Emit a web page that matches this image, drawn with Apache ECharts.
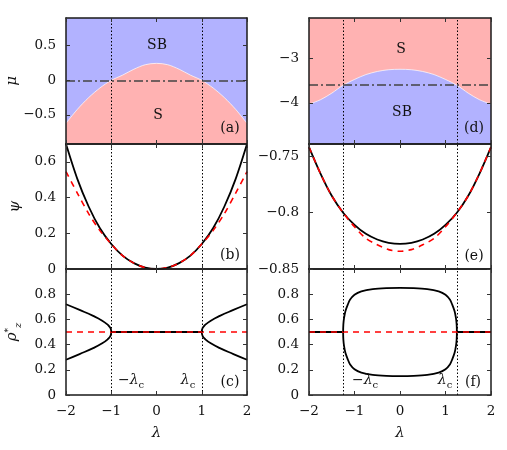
<!DOCTYPE html>
<html>
<head>
<meta charset="utf-8">
<script src="https://cdn.jsdelivr.net/npm/echarts@6/dist/echarts.min.js"></script>
<style>
  html, body { margin: 0; padding: 0; background: #fff; }
  #chart { width: 507px; height: 450px; }
</style>
</head>
<body>
<div id="chart"></div>
<script>
// common lambda grid for the smooth curves
const lam = [-2, -1.75, -1.5, -1.25, -1, -0.75, -0.5, -0.25, 0, 0.25, 0.5, 0.75, 1, 1.25, 1.5, 1.75, 2];

// (a) phase boundary mu(lambda), S below / SB above
const muBoundaryA = [-0.62, -0.42, -0.25, -0.11, 0, 0.075, 0.16, 0.225, 0.245, 0.225, 0.16, 0.075, 0, -0.11, -0.25, -0.42, -0.62];
const muLineA = 0;
// (b) psi
const psiBlackB = [0.70, 0.505, 0.35, 0.228, 0.14, 0.075, 0.033, 0.008, 0, 0.008, 0.033, 0.075, 0.14, 0.228, 0.35, 0.505, 0.70];
const psiRedB = [0.545, 0.425, 0.31, 0.215, 0.14, 0.075, 0.033, 0.008, 0, 0.008, 0.033, 0.075, 0.14, 0.215, 0.31, 0.425, 0.545];
// (c) rho*_z
const branchLamL = [-2, -1.7, -1.4, -1.2, -1.08, -1.02, -1, -1.02, -1.08, -1.2, -1.4, -1.7, -2];
const branchLamR = [2, 1.7, 1.4, 1.2, 1.08, 1.02, 1, 1.02, 1.08, 1.2, 1.4, 1.7, 2];
const branchRho = [0.72, 0.675, 0.628, 0.59, 0.558, 0.532, 0.5, 0.468, 0.442, 0.41, 0.372, 0.325, 0.28];
const flatLamC = [-1, 1];
const flatRhoC = [0.5, 0.5];
const redLam = [-2, 2];
const redRho = [0.5, 0.5];
const lamcLeft = 1;

// (d) phase boundary, SB below / S above
const muBoundaryD = [-4.03, -3.93, -3.78, -3.6, -3.47, -3.36, -3.29, -3.25, -3.24, -3.25, -3.29, -3.36, -3.47, -3.6, -3.78, -3.93, -4.03];
const muLineD = -3.6;
// (e) psi
const psiBlackE = [-0.7417, -0.765, -0.785, -0.800, -0.8108, -0.8188, -0.8238, -0.8267, -0.8277, -0.8267, -0.8238, -0.8188, -0.8108, -0.800, -0.785, -0.765, -0.7417];
const psiRedE = [-0.7417, -0.765, -0.785, -0.800, -0.8125, -0.8228, -0.8285, -0.8328, -0.8343, -0.8328, -0.8285, -0.8228, -0.8125, -0.800, -0.785, -0.765, -0.7417];
// (f) rho*_z loop
const loopLam = [-1.25, -1.245, -1.23, -1.2, -1.15, -1.1, -1, -0.85, -0.6, -0.3, 0, 0.3, 0.6, 0.85, 1, 1.1, 1.15, 1.2, 1.23, 1.245, 1.25,
  1.245, 1.23, 1.2, 1.15, 1.1, 1, 0.85, 0.6, 0.3, 0, -0.3, -0.6, -0.85, -1, -1.1, -1.15, -1.2, -1.23, -1.245, -1.25];
const loopRho = [0.5, 0.56, 0.61, 0.665, 0.715, 0.755, 0.795, 0.822, 0.84, 0.848, 0.85, 0.848, 0.84, 0.822, 0.795, 0.755, 0.715, 0.665, 0.61, 0.56, 0.5,
  0.44, 0.39, 0.335, 0.285, 0.245, 0.205, 0.178, 0.16, 0.152, 0.15, 0.152, 0.16, 0.178, 0.205, 0.245, 0.285, 0.335, 0.39, 0.44, 0.5];
const flatLamFL = [-2, -1.25];
const flatLamFR = [1.25, 2];
const flatRhoF = [0.5, 0.5];
const lamcRight = 1.25;

// tick labels
const xTicks = [-2, -1, 0, 1, 2];
const yTicksA = [-0.5, 0, 0.5];
const yTicksB = [0, 0.2, 0.4, 0.6];
const yTicksC = [0, 0.2, 0.4, 0.6, 0.8];
const yTicksD = [-4, -3];
const yTicksE = [-0.85, -0.8, -0.75];
const yTicksF = [0, 0.2, 0.4, 0.6, 0.8];

const BLUE = '#b2b2ff';
const PINK = '#ffb2b2';
const FONT = '"DejaVu Serif", serif';

function zip(xs, ys) { return xs.map((x, i) => [x, ys[i]]); }
const minus = v => String(v).replace('-', '\u2212');

const chart = echarts.init(document.getElementById('chart'));

// grid geometry: a,b,c left column, d,e,f right column
const panels = [
  { left: 66, top: 18, width: 181, height: 126, min: -0.92, max: 0.9, ticks: yTicksA, xlab: false, bg: BLUE },
  { left: 66, top: 144, width: 181, height: 125, min: 0, max: 0.7, ticks: yTicksB, xlab: false },
  { left: 66, top: 269, width: 181, height: 126, min: 0, max: 1, ticks: yTicksC, xlab: true },
  { left: 309, top: 18, width: 182, height: 126, min: -4.93, max: -2.08, ticks: yTicksD, xlab: false, bg: PINK },
  { left: 309, top: 144, width: 182, height: 125, min: -0.85, max: -0.739, ticks: yTicksE, xlab: false },
  { left: 309, top: 269, width: 182, height: 126, min: 0, max: 1, ticks: yTicksF, xlab: true }
];
const yNames = ['\u03bc', '\u03c8', '{r|\u03c1}{s|*}{z|z}'];

const frame = { color: '#1a1a1a', width: 1.5 };
const tick = { inside: true, length: 4, lineStyle: { color: '#333', width: 1 } };
const labelStyle = { color: '#111', fontFamily: FONT, fontSize: 13.5 };

const grid = [], xAxis = [], yAxis = [];
panels.forEach((p, g) => {
  grid.push({
    left: p.left, top: p.top, width: p.width, height: p.height,
    show: !!p.bg, backgroundColor: p.bg || 'transparent', borderWidth: 0
  });
  ['bottom', 'top'].forEach(pos => {
    const ax = {
      gridIndex: g, type: 'value', min: -2, max: 2, interval: 1, position: pos, z: 5,
      axisLine: { show: true, onZero: false, lineStyle: frame },
      axisTick: tick,
      splitLine: { show: false },
      axisLabel: { show: pos === 'bottom' && p.xlab, margin: 9, formatter: minus, ...labelStyle, customValues: xTicks }
    };
    if (pos === 'bottom' && p.xlab) {
      ax.name = '\u03bb';
      ax.nameLocation = 'middle';
      ax.nameGap = 31;
      ax.nameTextStyle = { fontFamily: FONT, fontStyle: 'italic', fontSize: 15, color: '#111' };
    }
    xAxis.push(ax);
  });
  ['left', 'right'].forEach(pos => {
    const ay = {
      gridIndex: g, type: 'value', min: p.min, max: p.max, position: pos, z: 5,
      axisLine: { show: true, onZero: false, lineStyle: frame },
      axisTick: { ...tick, customValues: p.ticks },
      splitLine: { show: false },
      axisLabel: { show: pos === 'left', margin: 10, formatter: minus, ...labelStyle, customValues: p.ticks }
    };
    if (pos === 'left' && g < 3) {
      ay.name = yNames[g];
      ay.nameLocation = 'middle';
      ay.nameGap = 43;
      ay.nameTextStyle = {
        fontFamily: FONT, fontStyle: 'italic', fontSize: 15, color: '#111',
        rich: {
          r: { fontFamily: FONT, fontStyle: 'italic', fontSize: 15, verticalAlign: 'bottom', padding: [0, 0, 3, 0] },
          s: { fontFamily: FONT, fontSize: 9, verticalAlign: 'bottom', padding: [0, 0, 10, 0] },
          z: { fontFamily: FONT, fontStyle: 'italic', fontSize: 10, verticalAlign: 'bottom' }
        }
      };
    }
    yAxis.push(ay);
  });
});

const dotted = { color: '#000', width: 1, type: [1.5, 2] };
const dashDot = { color: '#444', width: 1.5, type: [9, 3, 2, 3] };
function vlines(lc, extra) {
  return {
    silent: true, symbol: ['none', 'none'], label: { show: false },
    lineStyle: dotted,
    data: [{ xAxis: -lc }, { xAxis: lc }].concat(extra || [])
  };
}
function curve(g, data, opt) {
  return Object.assign({
    type: 'line', xAxisIndex: 2 * g, yAxisIndex: 2 * g, data: data,
    showSymbol: false, smooth: 0.3, z: 2,
    lineStyle: { color: '#000', width: 1.8 }
  }, opt || {});
}
const black = { color: '#000', width: 1.8 };
const red = { color: '#ff0000', width: 1.6, type: [6, 5] };

const series = [
  // (a)
  curve(0, zip(lam, muBoundaryA), {
    lineStyle: { color: 'rgba(255,255,255,0.7)', width: 1 },
    areaStyle: { color: PINK, opacity: 1, origin: 'start' },
    markLine: vlines(lamcLeft, [{ yAxis: muLineA, lineStyle: dashDot }])
  }),
  // (b)
  curve(1, zip(lam, psiBlackB), { lineStyle: black, markLine: vlines(lamcLeft) }),
  curve(1, zip(lam, psiRedB), { lineStyle: red }),
  // (c)
  curve(2, zip(branchLamL, branchRho), { lineStyle: black, smooth: 0.5, markLine: vlines(lamcLeft) }),
  curve(2, zip(branchLamR, branchRho), { lineStyle: black, smooth: 0.5 }),
  curve(2, zip(flatLamC, flatRhoC), { lineStyle: black, smooth: false }),
  curve(2, zip(redLam, redRho), { lineStyle: red, smooth: false }),
  // (d)
  curve(3, zip(lam, muBoundaryD), {
    lineStyle: { color: 'rgba(255,255,255,0.7)', width: 1 },
    areaStyle: { color: BLUE, opacity: 1, origin: 'start' },
    markLine: vlines(lamcRight, [{ yAxis: muLineD, lineStyle: dashDot }])
  }),
  // (e)
  curve(4, zip(lam, psiBlackE), { lineStyle: black, markLine: vlines(lamcRight) }),
  curve(4, zip(lam, psiRedE), { lineStyle: red }),
  // (f)
  curve(5, zip(loopLam, loopRho), { lineStyle: black, markLine: vlines(lamcRight) }),
  curve(5, zip(flatLamFL, flatRhoF), { lineStyle: black, smooth: false }),
  curve(5, zip(flatLamFR, flatRhoF), { lineStyle: black, smooth: false }),
  curve(5, zip(redLam, redRho), { lineStyle: red, smooth: false })
];

function txt(x, y, text, size) {
  return {
    type: 'text', x: x, y: y, z: 100,
    style: { text: text, fill: '#111', font: (size || 14) + 'px ' + FONT, align: 'center', verticalAlign: 'middle' }
  };
}
const lcRich = {
  n: { fontFamily: FONT, fontSize: 14, verticalAlign: 'bottom', padding: [0, 0, 3, 0] },
  i: { fontFamily: FONT, fontStyle: 'italic', fontSize: 14, verticalAlign: 'bottom', padding: [0, 0, 3, 0] },
  s: { fontFamily: FONT, fontSize: 10, verticalAlign: 'bottom' }
};
function lc(x, y, neg) {
  return {
    type: 'text', x: x, y: y, z: 100,
    style: {
      text: (neg ? '{n|\u2212}' : '') + '{i|\u03bb}{s|c}', rich: lcRich, fill: '#111',
      align: 'center', verticalAlign: 'middle'
    }
  };
}

const graphic = [
  txt(157, 45, 'SB'), txt(158, 115, 'S'), txt(230, 128, '(a)'),
  txt(401, 49, 'S'), txt(402, 112, 'SB'), txt(474, 128, '(d)'),
  txt(230, 255, '(b)'), txt(474, 256, '(e)'),
  txt(230, 382, '(c)'), txt(473, 382, '(f)'),
  lc(131, 382, true), lc(188, 382, false),
  lc(365, 382, true), lc(445, 382, false)
];

chart.setOption({
  animation: false,
  backgroundColor: '#fff',
  grid: grid,
  xAxis: xAxis,
  yAxis: yAxis,
  series: series,
  graphic: graphic
});
</script>
</body>
</html>
